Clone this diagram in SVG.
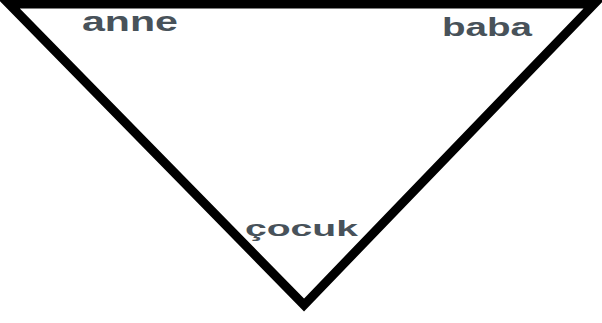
<svg xmlns="http://www.w3.org/2000/svg" width="602" height="323" viewBox="0 0 602 323">
<style>
.lbl{font-family:"Liberation Sans",Arial,sans-serif;font-weight:bold;fill:#48525a;}
.edge{fill:none;stroke:#000;stroke-width:9;stroke-linejoin:miter;}
</style>
<rect width="602" height="323" fill="#fff"/>
<g id="connectors">
<polygon class="edge" points="9,4 594,4 304,305"/>
</g>
<g id="anne"><text class="lbl" x="82" y="31" font-size="27" textLength="96" lengthAdjust="spacingAndGlyphs">anne</text></g>
<g id="baba"><text class="lbl" x="442" y="36" font-size="26" textLength="90" lengthAdjust="spacingAndGlyphs">baba</text></g>
<g id="cocuk"><text class="lbl" x="245" y="236" font-size="22" textLength="113" lengthAdjust="spacingAndGlyphs">çocuk</text></g>
</svg>
